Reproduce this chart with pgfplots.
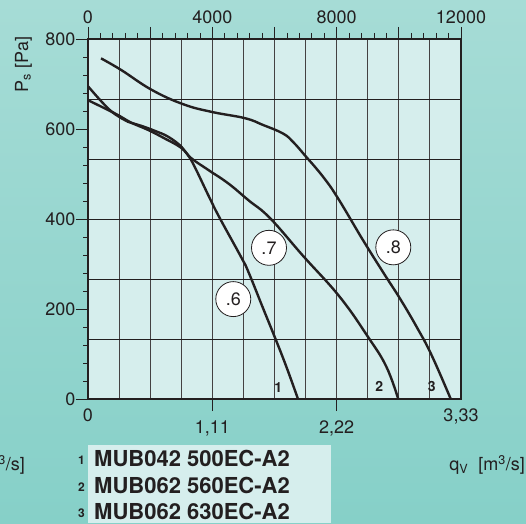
\documentclass[border=0pt]{standalone}
\usepackage{fontspec}
\setmainfont{TeX Gyre Heros}
\usepackage{pgfplots}
\pgfplotsset{compat=1.18}

\definecolor{bgtop}{RGB}{166,220,214}
\definecolor{bgbot}{RGB}{134,208,200}
\definecolor{plotbg}{RGB}{214,238,237}
\definecolor{ink}{RGB}{35,31,32}

\newcommand{\tickfont}{\fontsize{18}{20}\selectfont}

\begin{document}
\begin{tikzpicture}
\shade[top color=bgtop, bottom color=bgbot] (0pt,0pt) rectangle (526pt,523pt);

% model list
\fill[plotbg] (88pt,0pt) rectangle (331pt,77.6pt);
\begin{scope}[every node/.style={inner sep=0pt, text=ink}]
  \node[anchor=base west, font=\fontsize{22}{24}\selectfont\bfseries] at (94pt,56.4pt) {MUB042 500EC-A2};
  \node[anchor=base west, font=\fontsize{22}{24}\selectfont\bfseries] at (94pt,29.8pt) {MUB062 560EC-A2};
  \node[anchor=base west, font=\fontsize{22}{24}\selectfont\bfseries] at (94pt,3.4pt) {MUB062 630EC-A2};
  \node[anchor=base east, font=\fontsize{12}{14}\selectfont\bfseries] at (85pt,58.4pt) {1};
  \node[anchor=base east, font=\fontsize{12}{14}\selectfont\bfseries] at (85pt,31.8pt) {2};
  \node[anchor=base east, font=\fontsize{12}{14}\selectfont\bfseries] at (85pt,5.4pt) {3};
  % axis titles
  \node[anchor=base east, font=\tickfont] at (525pt,52.4pt) {q\textsubscript{V}~~[m\textsuperscript{3}/s]};
  \node[anchor=base east, font=\tickfont] at (25pt,52.4pt) {q\textsubscript{V}~~[m\textsuperscript{3}/s]};
  \node[anchor=base, rotate=90, font=\tickfont] at (28pt,458.5pt) {P\textsubscript{s}~[Pa]};
\end{scope}

% main axis: pressure vs. flow, bottom scale in m3/s
\begin{axis}[
  at={(88pt,124pt)}, anchor=south west,
  scale only axis, width=373pt, height=360pt,
  xmin=0, xmax=12000, ymin=0, ymax=800,
  scaled x ticks=false, scaled y ticks=false,
  axis background/.style={fill=plotbg},
  axis line style={ink, line width=1.4pt},
  tick align=outside,
  xtick pos=lower, ytick pos=left,
  major tick length=12pt, minor tick length=5pt,
  every tick/.style={ink, line width=0.8pt},
  ticklabel style={font=\tickfont, text=ink},
  xticklabel style={yshift=-6pt},
  yticklabel style={xshift=3pt},
  /pgf/number format/assume math mode=true,
  xtick={4000,8000}, xticklabels={{1,11},{2,22}},
  extra x ticks={0,12000}, extra x tick labels={0,{3,33}},
  extra x tick style={major tick length=0pt},
  minor xtick={1000,2000,3000,4000,5000,6000,7000,8000,9000,10000,11000},
  xminorgrids=true,
  minor x tick style={draw=none},
  minor grid style={ink!85, line width=0.9pt},
  ytick={0,200,400,600,800},
  minor ytick={40,80,...,760},
  extra y ticks={133.333,266.667,400,533.333,666.667},
  extra y tick labels={},
  extra y tick style={grid=major, major tick length=0pt},
  major grid style={ink, line width=0.9pt},
  clip=true,
]
% curve 1: MUB042 500EC-A2
\addplot[ink, line width=2.4pt, smooth, tension=0.7] coordinates {
 (0,695) (643,646) (1072,624) (1287,616) (1716,607) (2145,596) (2574,583)
 (3002,561) (3217,542) (3432,516) (3925,445) (4247,401) (4945,313)
 (5157,283) (5630,202) (6006,138) (6380,72) (6756,0)};
% curve 2: MUB062 560EC-A2
\addplot[ink, line width=2.4pt, smooth, tension=0.7] coordinates {
 (0,664) (536,646) (965,631) (1394,614) (1930,598) (2466,579) (3002,558)
 (3324,535) (3871,509) (4514,479) (5157,442) (5855,402) (6920,318)
 (8098,227) (9008,138) (9597,72) (9980,0)};
% curve 3: MUB062 630EC-A2
\addplot[ink, line width=2.4pt, smooth, tension=0.7] coordinates {
 (418,757) (1071,731) (2049,687) (3066,655) (3980,638) (5051,624)
 (5630,609) (6273,590) (6600,571) (6971,542) (7560,494) (8043,446) (8847,353)
 (9555,275) (10030,224) (10575,160) (11050,98) (11670,0)};
% curve numbers
\node[font=\fontsize{14}{16}\selectfont\bfseries, text=ink] at (axis cs:6122,26) {1};
\node[font=\fontsize{14}{16}\selectfont\bfseries, text=ink] at (axis cs:9371,27) {2};
\node[font=\fontsize{14}{16}\selectfont\bfseries, text=ink] at (axis cs:11057,27) {3};
% efficiency markers
\node[circle, draw=ink, fill=white, line width=0.8pt, minimum size=35pt, inner sep=0pt,
      font=\tickfont, text=ink] at (axis cs:4674,222) {.6};
\node[circle, draw=ink, fill=white, line width=0.8pt, minimum size=35pt, inner sep=0pt,
      font=\tickfont, text=ink] at (axis cs:5823,336) {.7};
\node[circle, draw=ink, fill=white, line width=0.8pt, minimum size=35pt, inner sep=0pt,
      font=\tickfont, text=ink] at (axis cs:9822,337) {.8};
\end{axis}

% top scale in m3/h
\begin{axis}[
  at={(88pt,124pt)}, anchor=south west,
  scale only axis, width=373pt, height=360pt,
  xmin=0, xmax=12000, ymin=0, ymax=800,
  scaled x ticks=false,
  axis x line*=top, axis y line=none,
  axis line style={ink, line width=1.4pt},
  tick align=outside,
  major tick length=12pt, minor tick length=6pt,
  every tick/.style={ink, line width=0.8pt},
  ticklabel style={font=\tickfont, text=ink},
  /pgf/number format/assume math mode=true,
  xtick={0,2000,4000,6000,8000,10000,12000},
  xticklabels={0,,4000,,8000,,12000},
  minor xtick={400,800,...,11600},
]
\end{axis}

\pgfresetboundingbox
\useasboundingbox (0pt,0pt) rectangle (526pt,523pt);
\end{tikzpicture}
\end{document}
